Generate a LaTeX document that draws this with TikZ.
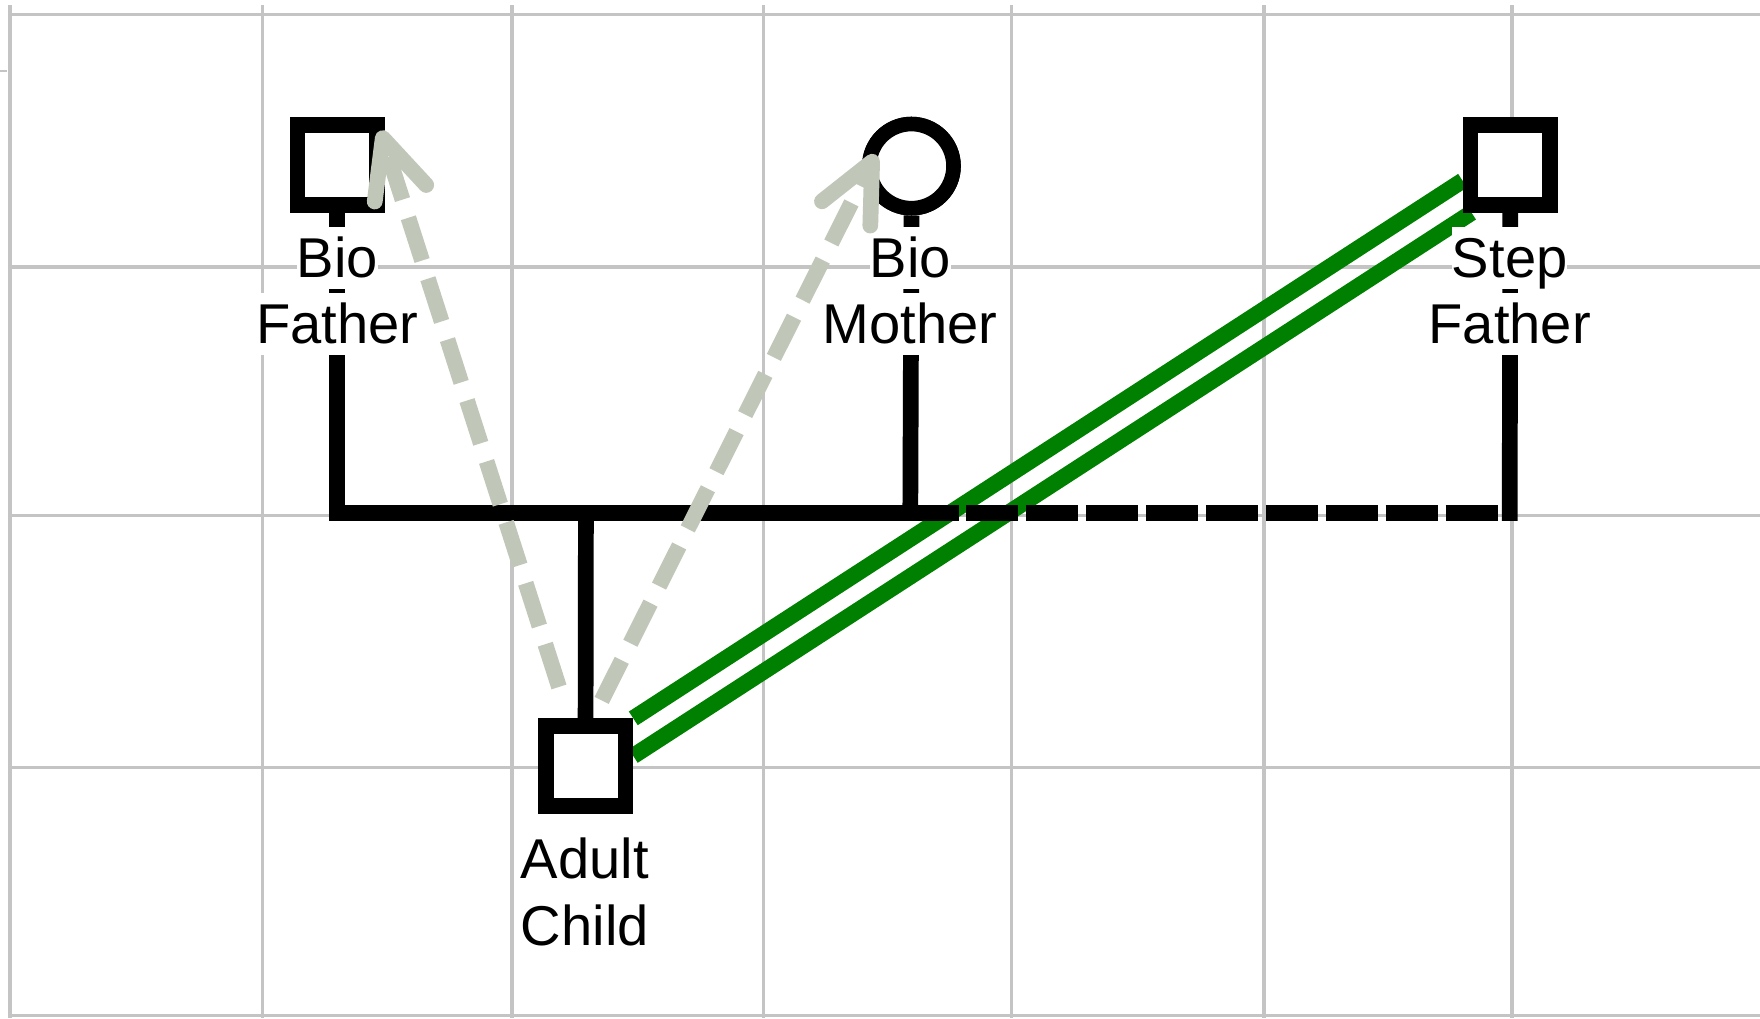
\documentclass[tikz,border=0pt]{standalone}
\usepackage{fontspec}
\setmainfont{Liberation Sans}
\usetikzlibrary{calc}
\definecolor{gridgray}{RGB}{196,196,196}
\definecolor{arrowgray}{RGB}{192,199,184}
\definecolor{relgreen}{RGB}{0,128,0}
\begin{document}
\begin{tikzpicture}[x=1pt,y=-1pt,
  gridline/.style={draw=gridgray,line width=3pt},
  famline/.style={draw=black,line width=14pt,line join=miter},
  greenline/.style={draw=relgreen,line width=14.5pt},
  grayshaft/.style={draw=arrowgray,line width=14pt,line cap=butt,dash pattern=on 40pt off 17pt},
  grayhead/.style={draw=arrowgray,line width=14pt,line cap=round,line join=round},
  person/.style={draw=black,line width=14pt,fill=white,inner sep=0pt,minimum size=71pt},
  lbl/.style={fill=white,inner sep=0pt,text height=45pt,text depth=10.5pt,anchor=base,
    font=\fontsize{50}{60}\selectfont}]
\useasboundingbox (0,0) rectangle (1568,907);
\fill[white] (0,0) rectangle (1568,907);
% grid
\foreach \x in {9,234,456,680,901,1126,1347} \draw[gridline] (\x,4.5) -- (\x,907);
\foreach \y in {13,238,459,684,904.5} \draw[gridline] (7,\y) -- (1568,\y);
\draw[draw=gridgray,line width=1.5pt] (0,63) -- (6,63);
% person nodes
\node[person,rectangle] (bf) at (300.5,147) {};
\node[person,circle,line width=13pt,minimum size=75pt] (bm) at (812,148) {};
\node[person,rectangle] (sf) at (1345.5,147) {};
\node[person,rectangle] (ch) at (521.7,682.5) {};
% junction coordinates
\coordinate (bfj) at (300.5,457);
\coordinate (cj) at (522,457);
\coordinate (mj) at (811,457);
\coordinate (mend) at (854,457);
\coordinate (sj) at (1345,464);
\coordinate (dstart) at (860.6,457);
\coordinate (dend) at (1334.5,457);
% green relationship lines (behind)
\draw[greenline] (ch.north east) -- ($(sf.west)+(0,14)$);
\draw[greenline] ($(ch.east)+(0,-9)$) -- ($(sf.south west)+(8,0)$);
% family lines
\draw[famline] (bf.south) -- (bfj) -- (mend);
\draw[famline] (bm.south) -- (mj);
\draw[famline] (sf.south) -- (sj);
\draw[famline,dash pattern=on 46.4pt off 7pt] (dstart) -- (dend);
\draw[famline] (cj) -- (ch.north);
% redraw person nodes on top
\node[person,rectangle] at (bf) {};
\node[person,circle,line width=13pt,minimum size=75pt] at (bm) {};
\node[person,rectangle] at (sf) {};
\node[person,rectangle] at (ch) {};
% labels
\node[lbl] (bft1) at (300.5,247) {Bio};
\node[lbl] (bft2) at (300.5,306) {Father};
\node[lbl] (bmt1) at (811,247) {Bio};
\node[lbl] (bmt2) at (811,306) {Mother};
\node[lbl] (sft1) at (1345,247) {Step};
\node[lbl] (sft2) at (1345,306) {Father};
\node[lbl] (cht1) at (521,783) {Adult};
\node[lbl] (cht2) at (521,842) {Child};
% gray arrows
\coordinate (a1s) at (498,612);
\coordinate (a1t) at (341,123);
\coordinate (a2s) at (536,624);
\coordinate (a2t) at (777,144);
\draw[grayshaft] (a1s) -- (a1t);
\draw[grayhead] ($(a1t)!57pt!25:(a1s)$) -- (a1t) -- ($(a1t)!57pt!-25:(a1s)$);
\draw[grayshaft] (a2s) -- (a2t);
\draw[grayhead] ($(a2t)!57pt!25:(a2s)$) -- (a2t) -- ($(a2t)!57pt!-25:(a2s)$);
\end{tikzpicture}
\end{document}
